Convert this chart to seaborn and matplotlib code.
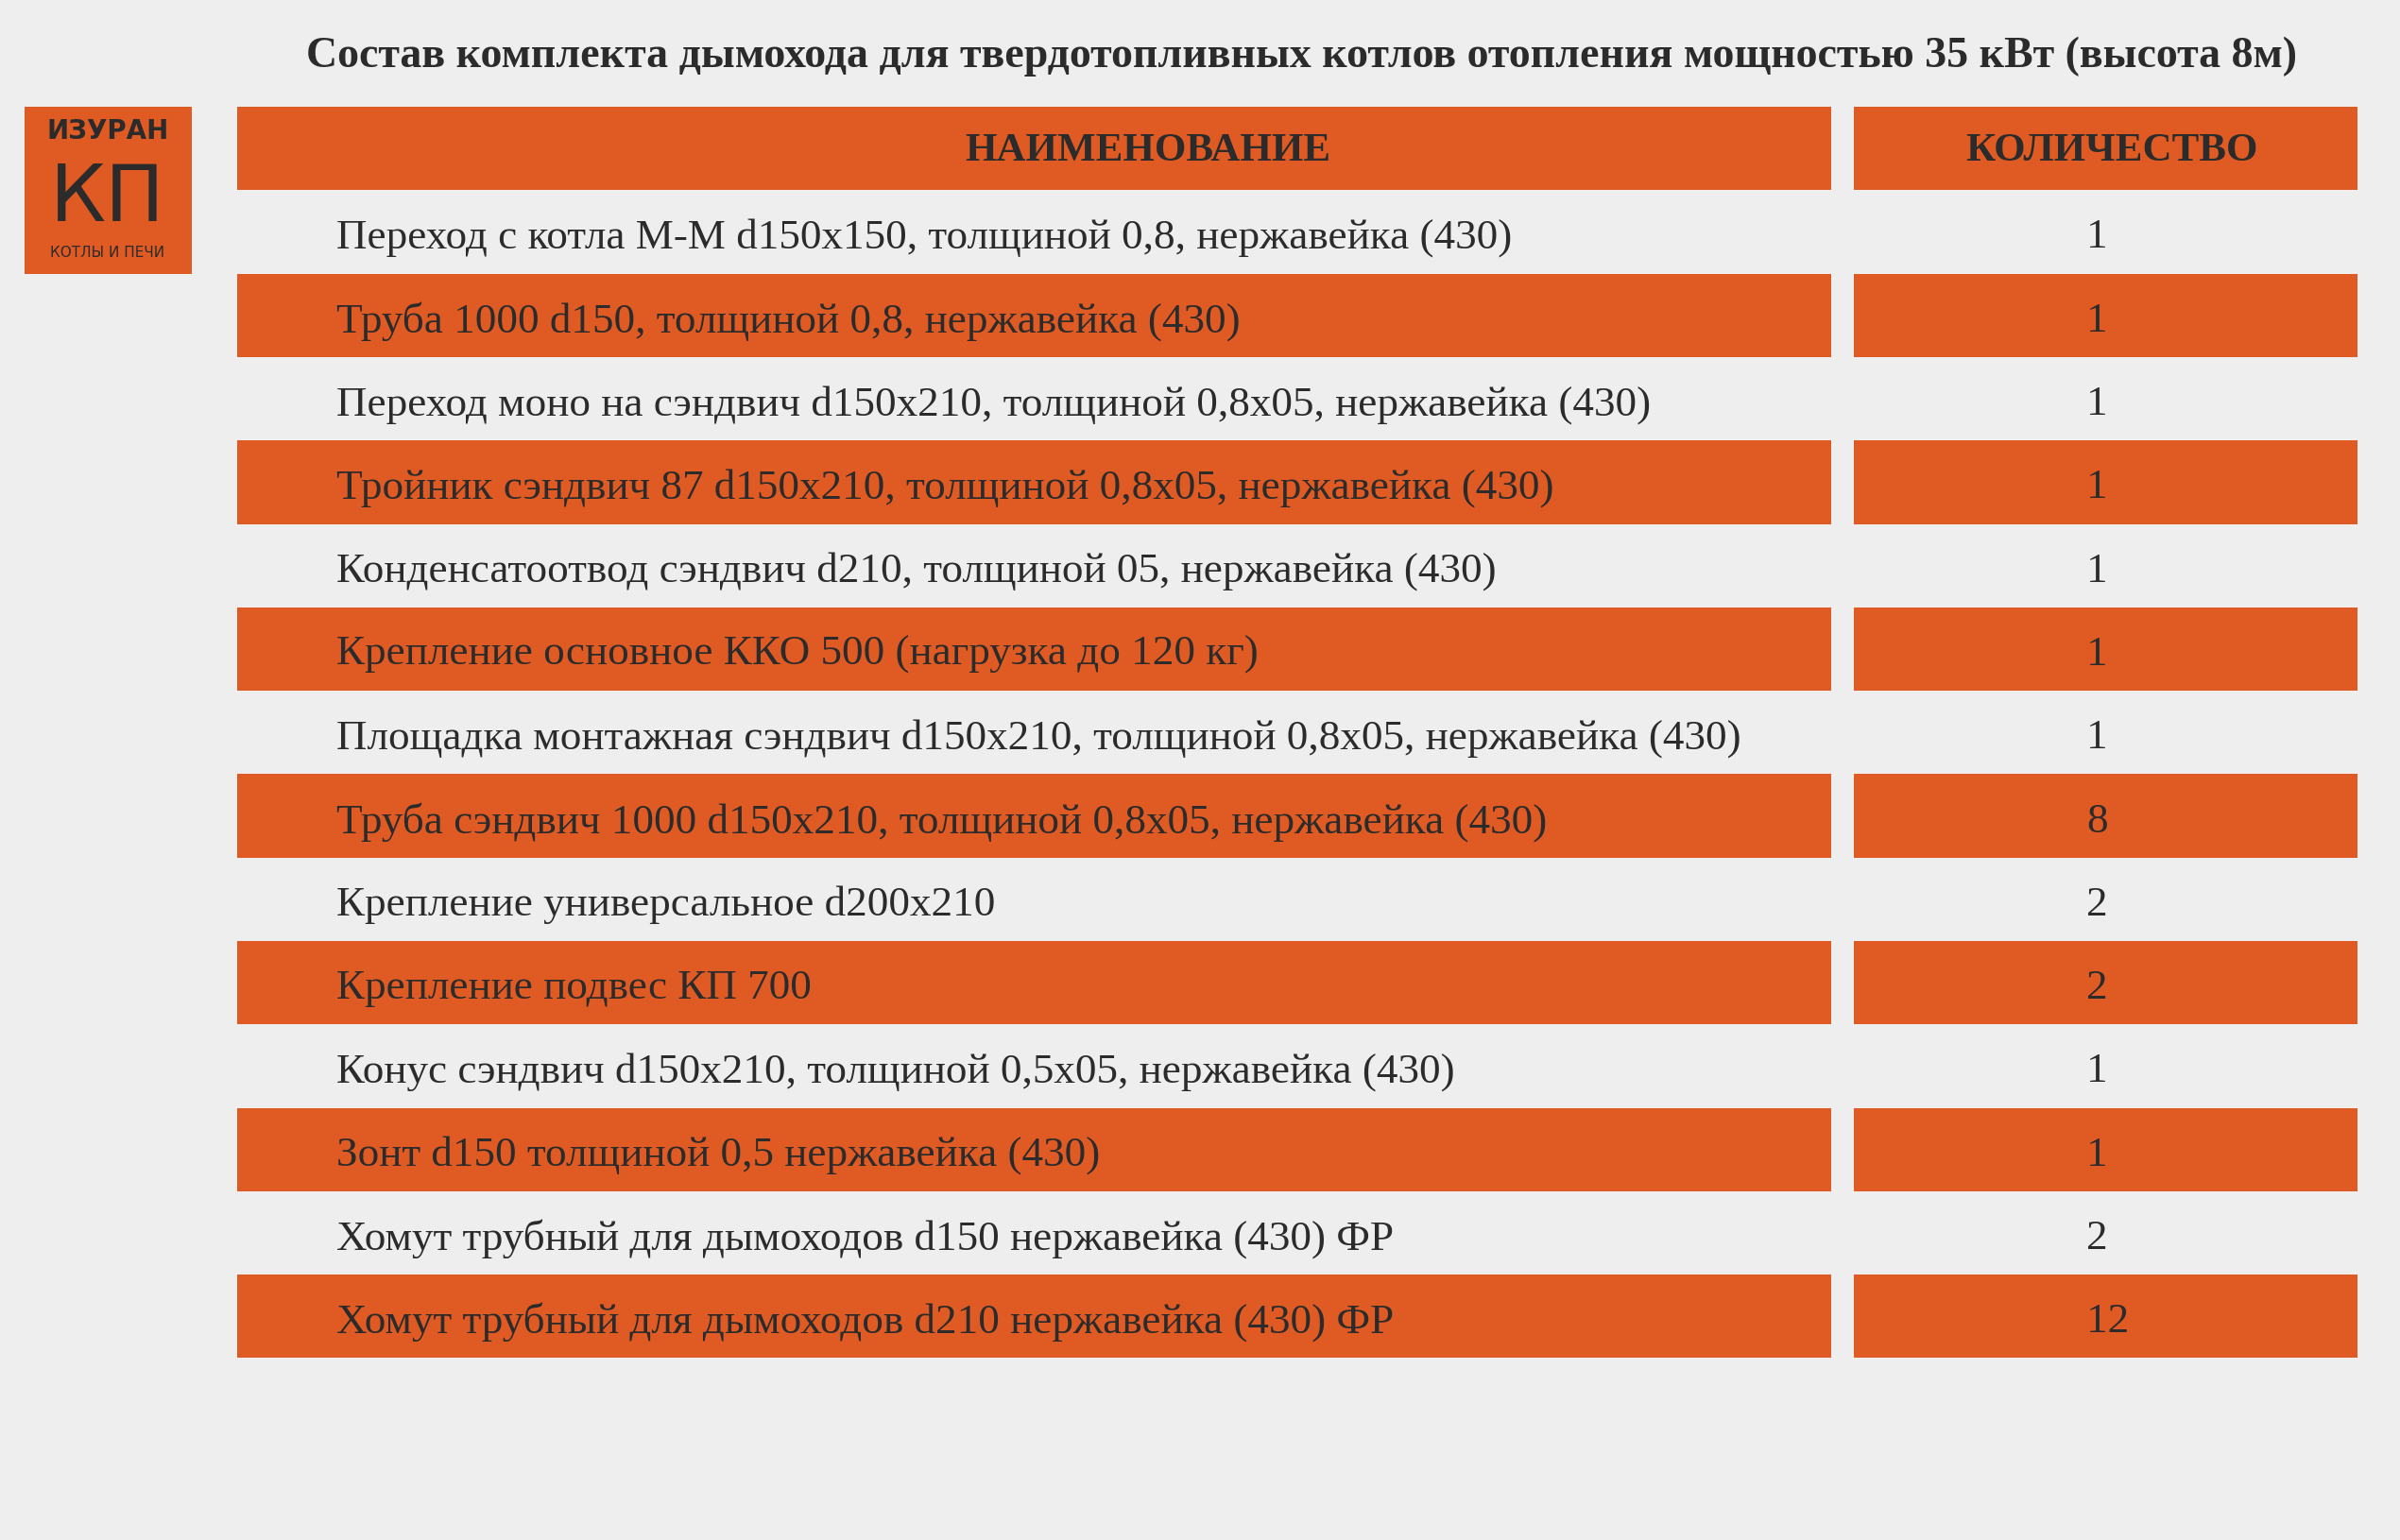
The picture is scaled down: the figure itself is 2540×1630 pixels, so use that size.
import matplotlib
matplotlib.use('Agg')
import matplotlib.pyplot as plt
import seaborn as sns

sns.set_style('white')
plt.rcParams['font.family'] = ['Liberation Serif', 'DejaVu Serif']

title = 'Состав комплекта дымохода для твердотопливных котлов отопления мощностью 35 кВт (высота 8м)'
header = ['НАИМЕНОВАНИЕ', 'КОЛИЧЕСТВО']
names = [
    'Переход с котла М-М d150х150, толщиной 0,8, нержавейка (430)',
    'Труба 1000 d150, толщиной 0,8, нержавейка (430)',
    'Переход моно на сэндвич d150х210, толщиной 0,8х05, нержавейка (430)',
    'Тройник сэндвич 87 d150х210, толщиной 0,8х05, нержавейка (430)',
    'Конденсатоотвод сэндвич d210, толщиной 05, нержавейка (430)',
    'Крепление основное ККО 500 (нагрузка до 120 кг)',
    'Площадка монтажная сэндвич d150х210, толщиной 0,8х05, нержавейка (430)',
    'Труба сэндвич 1000 d150х210, толщиной 0,8х05, нержавейка (430)',
    'Крепление универсальное d200х210',
    'Крепление подвес КП 700',
    'Конус сэндвич d150х210, толщиной 0,5х05, нержавейка (430)',
    'Зонт d150 толщиной 0,5 нержавейка (430)',
    'Хомут трубный для дымоходов d150 нержавейка (430) ФР',
    'Хомут трубный для дымоходов d210 нержавейка (430) ФР',
]
qty = [1, 1, 1, 1, 1, 1, 1, 8, 2, 2, 1, 1, 2, 12]

orange = '#E05B24'
bg = '#EDEEED'
dark = '#2B2B2B'

fig = plt.figure(figsize=(25.4, 16.3), dpi=100, facecolor=bg)
ax = fig.add_axes([0, 0, 1, 1])
ax.set_facecolor(bg)
ax.set_xlim(0, 2540)
ax.set_ylim(1630, 0)
ax.axis('off')

top, pitch = 113, 88.3
c1l, c1r, c2l, c2r = 251, 1938, 1962, 2495
nrows = len(names) + 1
rows = [top + pitch * (i + 0.5) for i in range(nrows)]
band = [i for i in range(nrows) if i % 2 == 0]
ax.barh([rows[i] for i in band], c1r - c1l, left=c1l, height=pitch, color=orange, lw=0)
ax.barh([rows[i] for i in band], c2r - c2l, left=c2l, height=pitch, color=orange, lw=0)

ax.text(1377, 60, title, ha='center', va='center', fontsize=33, fontweight='bold', color=dark)
ax.text(1215, rows[0] + 3, header[0], ha='center', va='center', fontsize=31, fontweight='bold', color=dark)
ax.text(2235, rows[0] + 3, header[1], ha='center', va='center', fontsize=31, fontweight='bold', color=dark)
for i, (n, q) in enumerate(zip(names, qty)):
    y = rows[i + 1] + 6
    ax.text(356, y, n, ha='left', va='center', fontsize=32.5, color=dark)
    ax.text(2208, y, str(q), ha='left', va='center', fontsize=32.5, color=dark)

# logo
ax.add_patch(plt.Rectangle((26, 113), 177, 177, color=orange, lw=0))
ax.text(114, 139, 'ИЗУРАН', ha='center', va='center', fontsize=20, fontweight='bold',
        family='DejaVu Sans', color=dark)
ax.text(114, 210, 'КП', ha='center', va='center', fontsize=60,
        family='DejaVu Sans', color=dark)
ax.text(114, 267, 'КОТЛЫ И ПЕЧИ', ha='center', va='center', fontsize=11,
        family='DejaVu Sans', color=dark)

fig.savefig('out.png', dpi=100, facecolor=bg)
